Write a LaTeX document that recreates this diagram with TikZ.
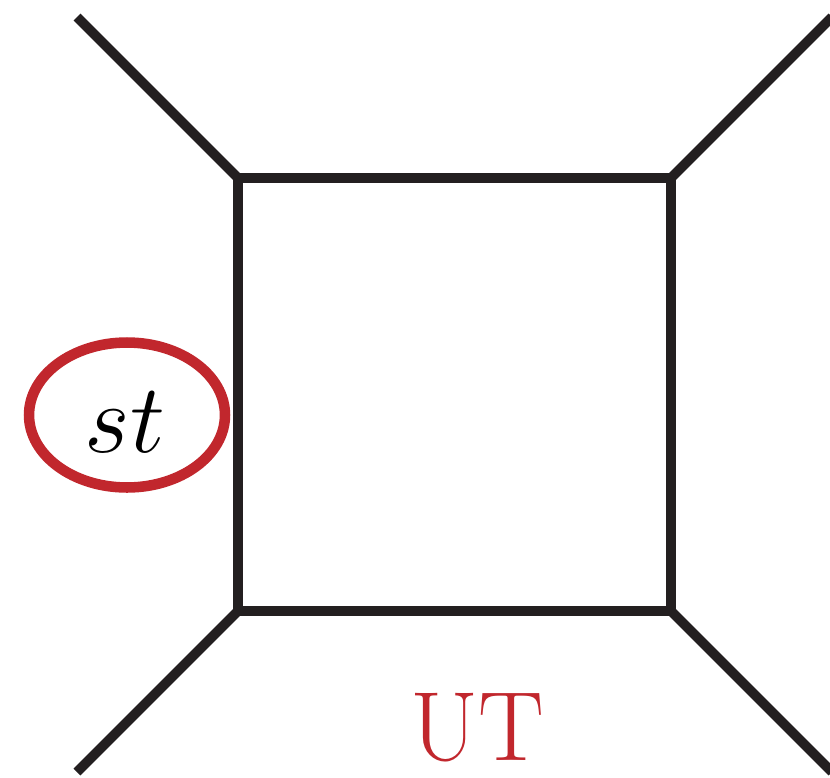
\RequirePackage{fix-cm}
\documentclass[tikz,border=0pt]{standalone}
\usepackage{amsmath, amssymb}
\usetikzlibrary{shapes.geometric}

\definecolor{ink}{HTML}{231F20}
\definecolor{utred}{HTML}{C1272D}

\begin{document}
\begin{tikzpicture}[
  x=0.02cm, y=-0.02cm,
  prop/.style={draw=ink, line width=5.5pt},
  blob/.style={ellipse, draw=utred, line width=6pt, minimum width=3.92cm, minimum height=2.9cm, inner sep=0pt},
  big/.style={font=\fontsize{56}{56}\selectfont}
]
\useasboundingbox (0,0) rectangle (830,777);

% corners of the box
\coordinate (tl) at (238,178);
\coordinate (tr) at (671,178);
\coordinate (br) at (671,611);
\coordinate (bl) at (238,611);

% external legs
\coordinate (ltl) at (77,17);
\coordinate (ltr) at (832,17);
\coordinate (lbr) at (832,772);
\coordinate (lbl) at (77,772);

\draw[prop, line join=miter] (tl) -- (tr) -- (br) -- (bl) -- cycle;
\draw[prop] (tl) -- (ltl);
\draw[prop] (tr) -- (ltr);
\draw[prop] (br) -- (lbr);
\draw[prop] (bl) -- (lbl);

% label on the left edge
\node[blob] (ring) at (127,415) {};
\node[big, anchor=base] (st) at (125,452) {$st$};

\node[big, anchor=base, text=utred] (ut) at (477,760) {UT};
\end{tikzpicture}
\end{document}
